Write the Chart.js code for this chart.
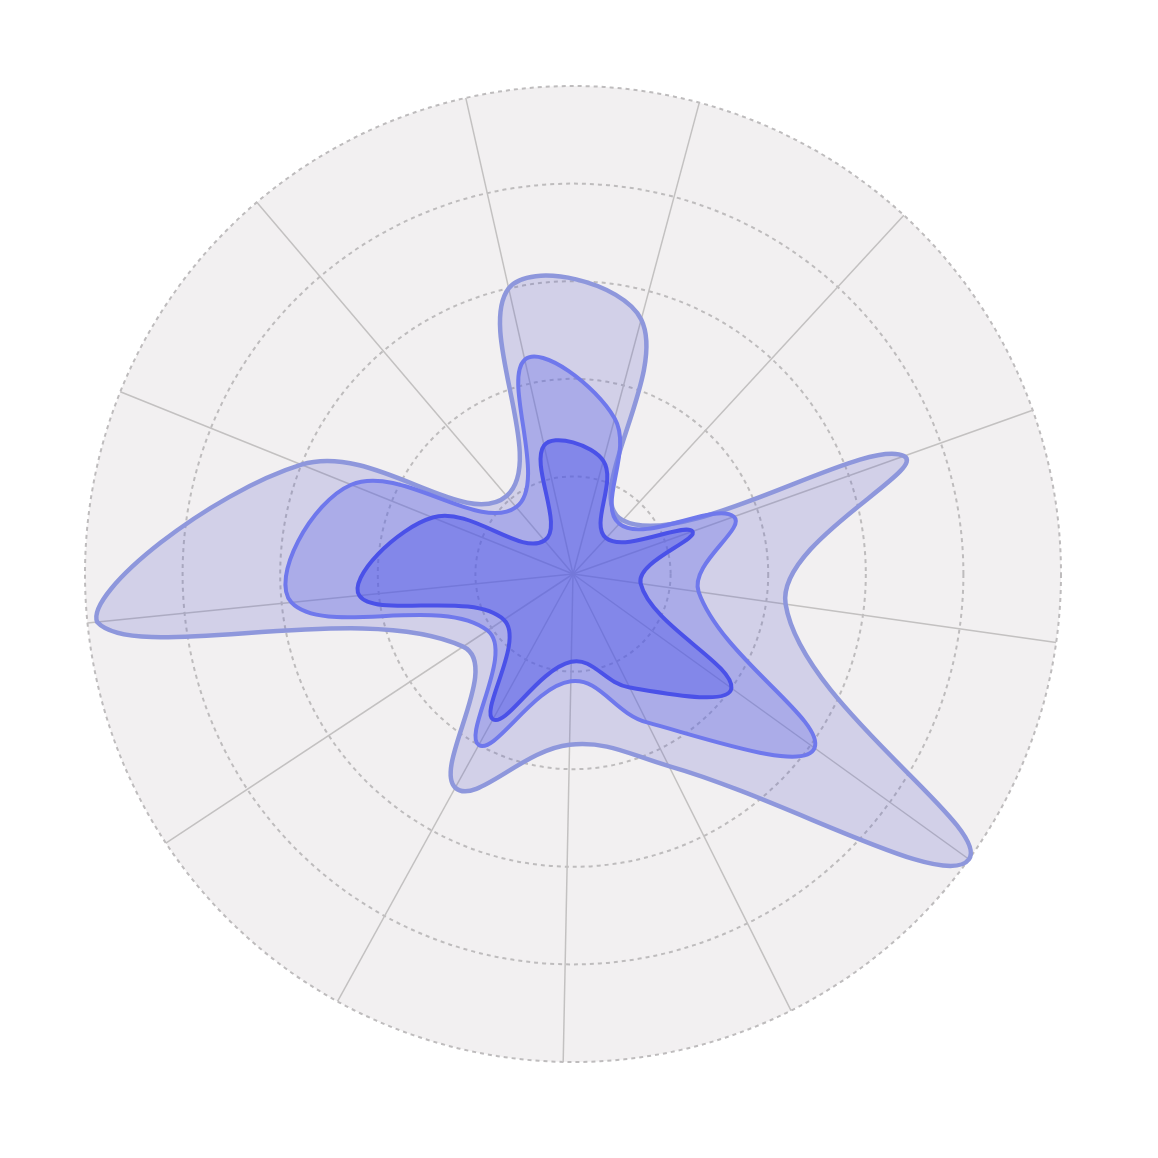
<!DOCTYPE html>
<html>
<head>
<meta charset="utf-8">
<script src="https://cdn.jsdelivr.net/npm/chart.js@4.4.1/dist/chart.umd.min.js"></script>
<style>
    html, body { margin: 0; padding: 0; background: #ffffff; }
    #wrap { width: 1158px; height: 1158px; }
</style>
</head>
<body>
<div id="wrap"><canvas id="radarChart"></canvas></div>
<script>
/* ============================================
   DATA
   ============================================ */
// 13 axes, labels are not drawn in the picture
const categories = ['A', 'B', 'C', 'D', 'E', 'F', 'G', 'H', 'I', 'J', 'K', 'L', 'M'];
const outerValues  = [54, 15, 72, 44, 100, 44, 35, 50, 27, 98, 60, 21, 60];
const middleValues = [33, 14, 35, 26, 61, 34, 22, 40, 21, 58, 49, 18, 45];
const innerValues  = [24, 10, 26, 14, 40, 26, 18, 34, 17, 44, 31, 9, 27];
const tickSteps = [0, 20, 40, 60, 80, 100];

/* ============================================
   CHART
   ============================================ */
const ctx = document.getElementById('radarChart');
new Chart(ctx, {
    type: 'radar',
    data: {
        labels: categories,
        datasets: [
            {
                label: 'Inner',
                data: innerValues,
                backgroundColor: 'rgba(70, 78, 235, 0.39)',
                borderColor: '#4a51e8',
                borderWidth: 4
            },
            {
                label: 'Middle',
                data: middleValues,
                backgroundColor: 'rgba(90, 100, 235, 0.33)',
                borderColor: '#6f78ec',
                borderWidth: 4
            },
            {
                label: 'Outer',
                data: outerValues,
                backgroundColor: 'rgba(95, 95, 200, 0.22)',
                borderColor: '#8e97dc',
                borderWidth: 4.5
            }
        ]
    },
    options: {
        responsive: true,
        maintainAspectRatio: false,
        animation: false,
        layout: { padding: { left: 85, right: 97, top: 86, bottom: 96 } },
        elements: {
            line: { tension: 0.4, fill: true },
            point: { radius: 0, hoverRadius: 0 }
        },
        plugins: {
            legend: { display: false },
            tooltip: { enabled: false }
        },
        scales: {
            r: {
                min: tickSteps[0],
                max: tickSteps[tickSteps.length - 1],
                startAngle: 15,
                backgroundColor: '#f2f0f1',
                ticks: { display: false, stepSize: tickSteps[1] - tickSteps[0] },
                pointLabels: { display: false },
                grid: {
                    circular: true,
                    color: '#bebcbd',
                    lineWidth: 2
                },
                border: { dash: [4, 4] },
                angleLines: { color: '#c3c1c1', lineWidth: 1.5 }
            }
        }
    }
});
</script>
</body>
</html>
